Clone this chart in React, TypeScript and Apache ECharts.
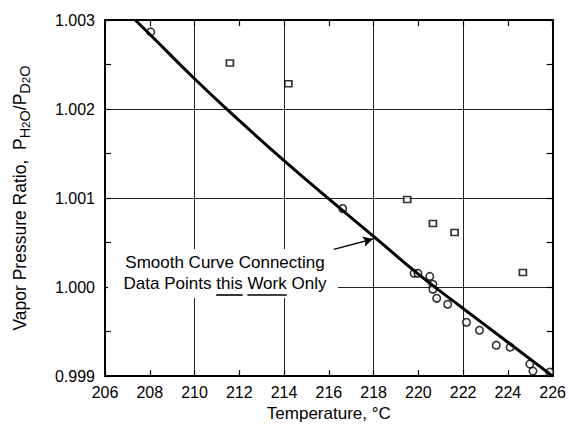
import React, { useEffect, useRef } from "react";
import * as echarts from "echarts";

// Smooth curve (this work)
const curveT = [207.35, 208, 210, 212, 214, 216, 218, 220, 222, 224, 226];
const curveR = [1.003, 1.00284, 1.00234, 1.00187, 1.00142, 1.00099, 1.00057, 1.000145, 0.99976, 0.99938, 0.999];

// Data points of this work (circles)
const workT = [208.04, 216.62, 219.81, 219.98, 220.51, 220.65, 220.65, 220.82, 221.31, 222.15, 222.73, 223.48, 224.1, 224.98, 225.12, 225.87];
const workR = [1.002866, 1.000882, 1.000154, 1.000154, 1.00012, 1.000031, 0.999975, 0.999874, 0.999807, 0.999605, 0.999515, 0.999347, 0.999325, 0.999135, 0.999056, 0.999045];

// Other data (squares)
const otherT = [211.58, 214.19, 219.5, 220.65, 221.62, 224.67];
const otherR = [1.002518, 1.002283, 1.000983, 1.000714, 1.000613, 1.000165];

// Arrow of the annotation
const arrowFrom = [216.22, 1.000423];
const arrowTo = [217.97, 1.00054];

const noteLine1 = "Smooth Curve Connecting";
const notePre = "Data Points ";
const noteThis = "this";
const noteMid = " ";
const noteWork = "Work";
const notePost = " Only";

const FONT = '"Liberation Sans", Arial, sans-serif';
const NOTE_FONT = '17px "Liberation Sans", Arial, sans-serif';

function measure(text: string, font: string) {
  const c = document.createElement("canvas").getContext("2d")!;
  c.font = font;
  return c.measureText(text).width;
}

export default function App() {
  const ref = useRef<HTMLDivElement>(null);
  useEffect(() => {
    document.body.style.margin = "0";
    const chart = echarts.init(ref.current!, null, { renderer: "svg" });
    const axisLine = { show: true, lineStyle: { color: "#000", width: 2 } };
    const tick = { show: true, inside: true, length: 6, lineStyle: { color: "#000", width: 1.2 } };
    const split = { show: true, lineStyle: { color: ["#222", "rgba(0,0,0,0)"], width: 1 } };

    const line2 = notePre + noteThis + noteMid + noteWork + notePost;
    const cx = 225;
    const w2 = measure(line2, NOTE_FONT);
    const s2 = cx - w2 / 2;
    const thisX0 = s2 + measure(notePre, NOTE_FONT);
    const thisX1 = thisX0 + measure(noteThis, NOTE_FONT);
    const workX0 = thisX1 + measure(noteMid, NOTE_FONT);
    const workX1 = workX0 + measure(noteWork, NOTE_FONT);
    const uy = 295;

    chart.setOption({
      animation: false,
      backgroundColor: "#fff",
      grid: { left: 101, right: 16, top: 20, bottom: 50, containLabel: false },
      xAxis: [
        {
          type: "value",
          min: 206,
          max: 226,
          interval: 2,
          axisLine,
          axisTick: tick,
          splitLine: split,
          axisLabel: { color: "#000", fontSize: 16, fontFamily: FONT, margin: 8 },
          name: "Temperature, °C",
          nameLocation: "middle",
          nameGap: 27,
          nameTextStyle: { color: "#000", fontSize: 17, fontFamily: FONT },
        },
        {
          type: "value",
          position: "top",
          min: 206,
          max: 226,
          interval: 2,
          axisLine,
          axisTick: tick,
          splitLine: { show: false },
          axisLabel: { show: false },
        },
      ],
      yAxis: [
        {
          type: "value",
          min: 0.999,
          max: 1.003,
          interval: 0.0005,
          axisLine,
          axisTick: tick,
          splitLine: split,
          axisLabel: {
            color: "#000",
            fontSize: 16,
            fontFamily: FONT,
            margin: 10,
            formatter: (v: number) => (Math.round(v * 2000) % 2 === 0 ? v.toFixed(3) : ""),
          },
          name: "Vapor Pressure Ratio,  P{s|H}{ss|2}{s|O}/P{s|D}{ss|2}{s|O}",
          nameLocation: "middle",
          nameRotate: 90,
          nameGap: 73,
          nameTextStyle: {
            color: "#000",
            fontSize: 17.5,
            fontFamily: FONT,
            lineHeight: 24,
            rich: {
              s: { fontSize: 14.5, fontFamily: FONT, color: "#000", lineHeight: 15, verticalAlign: "bottom" },
              ss: { fontSize: 11.5, fontFamily: FONT, color: "#000", lineHeight: 10, verticalAlign: "bottom" },
            },
          },
        },
        {
          type: "value",
          position: "right",
          min: 0.999,
          max: 1.003,
          interval: 0.0005,
          axisLine,
          axisTick: tick,
          splitLine: { show: false },
          axisLabel: { show: false },
        },
      ],
      graphic: [
        {
          type: "rect",
          z: 1,
          shape: { x: 108, y: 249, width: 230, height: 49 },
          style: { fill: "#fff" },
          silent: true,
        },
        {
          type: "text",
          z: 3,
          x: cx,
          y: 272.5,
          style: {
            text: noteLine1 + "\n" + line2,
            align: "center",
            verticalAlign: "middle",
            font: NOTE_FONT,
            lineHeight: 21,
            fill: "#000",
          },
          silent: true,
        },
        {
          type: "line",
          z: 3,
          shape: { x1: thisX0, y1: uy, x2: thisX1, y2: uy },
          style: { stroke: "#000", lineWidth: 1.6 },
          silent: true,
        },
        {
          type: "line",
          z: 3,
          shape: { x1: workX0, y1: uy, x2: workX1, y2: uy },
          style: { stroke: "#000", lineWidth: 1.6 },
          silent: true,
        },
      ],
      series: [
        {
          type: "scatter",
          name: "this work",
          data: workT.map((t, i) => [t, workR[i]]),
          symbol: "circle",
          symbolSize: 7.5,
          itemStyle: { color: "#fff", borderColor: "#000", borderWidth: 1.6 },
          clip: false,
          z: 3,
        },
        {
          type: "scatter",
          name: "other",
          data: otherT.map((t, i) => [t, otherR[i]]),
          symbol: "rect",
          symbolSize: [7, 6],
          itemStyle: { color: "#fff", borderColor: "#000", borderWidth: 1.6 },
          clip: false,
          z: 3,
        },
        {
          type: "line",
          name: "curve",
          data: curveT.map((t, i) => [t, curveR[i]]),
          smooth: true,
          showSymbol: false,
          lineStyle: { color: "#000", width: 3 },
          z: 4,
          markLine: {
            silent: true,
            symbol: ["none", "arrow"],
            symbolSize: [8, 10],
            label: { show: false },
            lineStyle: { color: "#000", width: 1.3, type: "solid" },
            data: [[{ coord: arrowFrom }, { coord: arrowTo }]],
          },
        },
      ],
    });
    return () => chart.dispose();
  }, []);
  return <div ref={ref} style={{ width: 569, height: 427 }} />;
}
